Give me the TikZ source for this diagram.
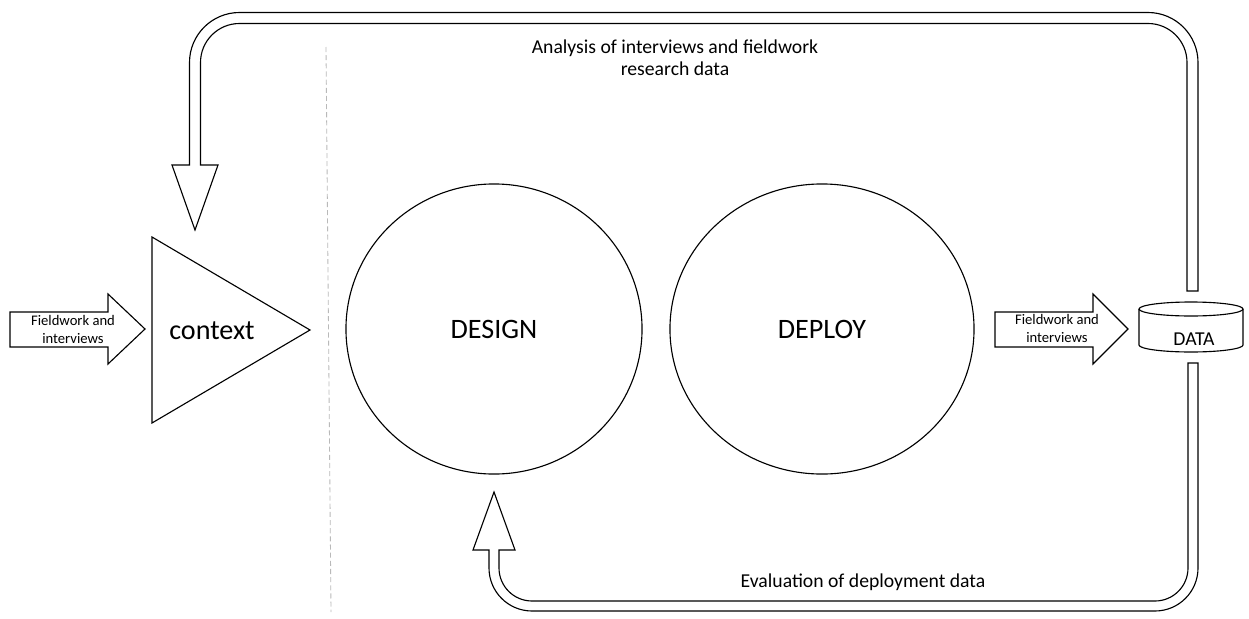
\documentclass[tikz,border=0pt]{standalone}
\usepackage{fontspec}
\setmainfont{Carlito}
\usetikzlibrary{shapes.geometric}
\begin{document}
\begin{tikzpicture}[x=0.025cm,y=-0.025cm,line width=0.8pt,lbl/.style={inner sep=0pt,font=\fontsize{14}{15.6}\selectfont},big/.style={inner sep=0pt,font=\fontsize{20}{24}\selectfont},small/.style={inner sep=0pt,align=center,font=\fontsize{10.4}{12.8}\selectfont},blk/.style={draw=black,fill=white,line join=miter},phase/.style={shape=ellipse,draw=black,inner sep=0pt,font=\fontsize{20}{24}\selectfont}]
\def\rOt{50};
\def\rIt{39};
\def\rOb{43};
\def\rIb{33};

\useasboundingbox (0,0) rectangle (1249,618);

\draw[gray!55,line width=0.6pt,dash pattern=on 3.6pt off 2.2pt] (326,47) -- (331,612);

\draw[blk] (10,312) -- (108,312) -- (108,294) -- (145,329) -- (108,364) -- (108,347) -- (10,347) -- cycle;
\node[small] (fwa) at (73,329) {Fieldwork and\\interviews};

\draw (152,237) -- (310,330) -- (152,423) -- cycle;
\node[big,anchor=base] (ctx) at (212,339) {context};

\node[phase,minimum width=7.4cm,minimum height=7.25cm] (design) at (494,329) {DESIGN};
\node[phase,minimum width=7.6cm,minimum height=7.25cm] (deploy) at (822,329) {DEPLOY};

\draw[blk] (995,312) -- (1093,312) -- (1093,294) -- (1128,329) -- (1093,364) -- (1093,347) -- (995,347) -- cycle;
\node[small] (fwb) at (1057,328) {Fieldwork and\\interviews};

\draw (1139,309) -- (1139,345) arc[start angle=180,end angle=0,x radius=52,y radius=7] -- (1243,309);
\draw (1191,309) ellipse[x radius=52,y radius=7];
\node[lbl,anchor=base] (data) at (1194,345) {DATA};

\draw[blk] (1187,291) -- (1198,291) -- (1198,62.5) arc[start angle=0,end angle=-90,radius=\rOt] -- (239.5,12.5) arc[start angle=-90,end angle=-180,radius=\rOt] -- (189.5,165) -- (172,165) -- (195,230) -- (218,165) -- (200.5,165) -- (200.5,62.5) arc[start angle=180,end angle=270,radius=\rIt] -- (1148,23.5) arc[start angle=270,end angle=360,radius=\rIt] -- cycle;
\node[lbl,align=center] (ana) at (675,58) {Analysis of interviews and fieldwork\\research data};

\draw[blk] (1188,363) -- (1198,363) -- (1198,568) arc[start angle=0,end angle=90,radius=\rOb] -- (532,611) arc[start angle=90,end angle=180,radius=\rOb] -- (489,550) -- (473,550) -- (494,492) -- (515,550) -- (499,550) -- (499,568) arc[start angle=180,end angle=90,radius=\rIb] -- (1155,601) arc[start angle=90,end angle=0,radius=\rIb] -- cycle;
\node[lbl,anchor=base] (eval) at (863,587) {Evaluation of deployment data};
\end{tikzpicture}
\end{document}
